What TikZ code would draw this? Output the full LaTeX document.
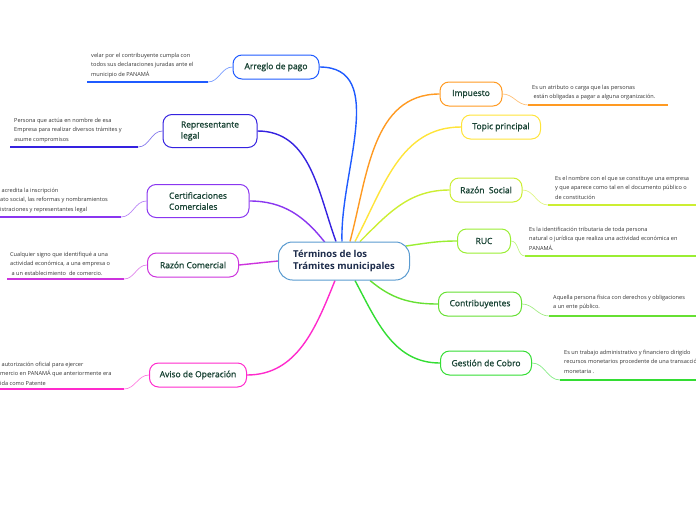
\documentclass[tikz,border=0pt]{standalone}
\usepackage{fontspec}
\setmainfont{Open Sans}
\newfontfamily\labelfont[FakeBold=1.2]{Open Sans}
\usetikzlibrary{positioning,calc,backgrounds}

\definecolor{centerblue}{HTML}{5A9BD0}
\definecolor{navy}{HTML}{1C2B4A}
\definecolor{labelgreen}{HTML}{1B4536}
\definecolor{notegray}{HTML}{333333}
\definecolor{cArreglo}{HTML}{1F5BFF}
\definecolor{cRepres}{HTML}{3522E0}
\definecolor{cCertif}{HTML}{8A36F0}
\definecolor{cRazCom}{HTML}{CC33DD}
\definecolor{cAviso}{HTML}{FF2ACC}
\definecolor{cImpuesto}{HTML}{FF9A22}
\definecolor{cTopic}{HTML}{FFE43A}
\definecolor{cRazSoc}{HTML}{CCEE33}
\definecolor{cRuc}{HTML}{9AEE33}
\definecolor{cContrib}{HTML}{66E033}
\definecolor{cGestion}{HTML}{33DD33}

\begin{document}
\begin{tikzpicture}[x=1pt,y=-1pt,
                    center node/.style={draw=centerblue,line width=1pt,fill=white,
                                        rounded corners=14pt,minimum width=131pt,
                                        minimum height=38pt,align=left,text=navy,
                                        font=\fontsize{9.5}{12}\selectfont\bfseries},
                    branch node/.style={draw=#1,line width=1pt,fill=white,
                                        rounded corners=9pt,minimum height=24pt,
                                        align=left,text=labelgreen,inner sep=2pt,
                                        font=\labelfont\fontsize{8.5}{11}\selectfont},
                    note/.style={anchor=north west,inner sep=0pt,align=left,
                                 text=notegray,font=\fontsize{5.6}{9.5}\selectfont},
                    branch/.style={draw=#1,line width=1.4pt},
                    link/.style={draw=#1!60,line width=0.7pt},
                    underline/.style={draw=#1,line width=1.8pt}
                   ]
   \useasboundingbox (0,0) rectangle (696,520);
   \clip (0,0) rectangle (696,520);
   % main topic
   \node[center node] (main) at (344,261) {Términos de los\\Trámites municipales};
   % left side
   \node[branch node=cArreglo,minimum width=86pt] (arreglo) at (276,67) {Arreglo de pago};
   \node[branch node=cRepres,minimum width=94pt,minimum height=33pt] (repres) at (210,131) {Representante\\legal};
   \node[branch node=cCertif,minimum width=102pt,minimum height=33pt] (certif) at (198,201) {Certificaciones\\Comerciales};
   \node[branch node=cRazCom,minimum width=91pt] (razcom) at (193,265) {Razón Comercial};
   \node[branch node=cAviso,minimum width=97pt] (aviso) at (198,375) {Aviso de Operación};
   % right side
   \node[branch node=cImpuesto,minimum width=62pt] (impuesto) at (471,94) {Impuesto};
   \node[branch node=cTopic,minimum width=79pt] (topic) at (501,127) {Topic principal};
   \node[branch node=cRazSoc,minimum width=72pt] (razsoc) at (486,190) {Razón\ \ Social};
   \node[branch node=cRuc,minimum width=53pt] (ruc) at (484,241) {RUC};
   \node[branch node=cContrib,minimum width=83pt] (contrib) at (480,304) {Contribuyentes};
   \node[branch node=cGestion,minimum width=91pt] (gestion) at (486,363) {Gestión de Cobro};

   % notes
   \node[note] (arreglo-note) at (91,53) {velar por el contribuyente cumpla con\\todos sus declaraciones juradas ante el\\municipio de PANAMÁ};
   \node[note] (repres-note) at (14,118) {Persona que actúa en nombre de esa\\Empresa para realizar diversos trámites y\\asume compromisos};
   \node[note] (certif-note) at (0,188) {\ acredita la inscripción\\ato social, las reformas y nombramientos\\istraciones y representantes legal};
   \node[note] (razcom-note) at (10,252) {Cualquier signo que identifiqué a una\\actividad económica, a una empresa o\\\ a un establecimiento\ \ de comercio.};
   \node[note] (aviso-note) at (0,362) {\ autorización oficial para ejercer\\mercio en PANAMÁ que anteriormente era\\ida como Patente};
   \node[note] (impuesto-note) at (532,85) {Es un atributo o carga que las personas\\\ están obligadas a pagar a alguna organización.};
   \node[note] (razsoc-note) at (555,176) {Es el nombre con el que se constituye una empresa\\y que aparece como tal en el documento público o\\de constitución};
   \node[note] (ruc-note) at (529,227) {Es la identificación tributaria de toda persona\\natural o jurídica que realiza una actividad económica en\\PANAMÁ.};
   \node[note] (contrib-note) at (553,295) {Aquella persona física con derechos y obligaciones\\a un ente público.};
   \node[note] (gestion-note) at (564,350) {Es un trabajo administrativo y financiero dirigido\\recursos monetarios procedente de una transacción\\monetaria .};

   % underline ends
   \coordinate (arreglo-a) at (208,82);   \coordinate (arreglo-b) at (87,82);
   \coordinate (repres-a) at (138,147);   \coordinate (repres-b) at (10,147);
   \coordinate (certif-a) at (121,217);   \coordinate (certif-b) at (0,217);
   \coordinate (razcom-a) at (124,279);   \coordinate (razcom-b) at (7,279);
   \coordinate (aviso-a) at (124,389);    \coordinate (aviso-b) at (0,389);
   \coordinate (impuesto-a) at (528,105); \coordinate (impuesto-b) at (668,105);
   \coordinate (razsoc-a) at (548,205);   \coordinate (razsoc-b) at (696,205);
   \coordinate (ruc-a) at (525,256);      \coordinate (ruc-b) at (696,256);
   \coordinate (contrib-a) at (549,316);  \coordinate (contrib-b) at (696,316);
   \coordinate (gestion-a) at (560,380);  \coordinate (gestion-b) at (696,380);

   \begin{scope}[on background layer]
   % branches from the main topic
   \path[branch=cArreglo] ($(main.north)+(-2,0)$) to[out=92,in=0] (arreglo.east);
   \path[branch=cRepres] ($(main.north)+(-8,0)$) to[out=110,in=0] (repres.east);
   \path[branch=cCertif] ($(main.north)+(-19,1)$) to[out=128,in=0] (certif.east);
   \path[branch=cRazCom] (main.west) -- (razcom.east);
   \path[branch=cAviso] ($(main.south)+(-9,0)$) to[out=-112,in=0] (aviso.east);
   \path[branch=cImpuesto] ($(main.north)+(6,0)$) to[out=75,in=180] (impuesto.west);
   \path[branch=cTopic] ($(main.north)+(11,0)$) to[out=62,in=180] (topic.west);
   \path[branch=cRazSoc] ($(main.north)+(16,0)$) to[out=45,in=180] (razsoc.west);
   \path[branch=cRuc] ($(main.east)+(-4,-15)$) to[out=8,in=180] (ruc.west);
   \path[branch=cContrib] ($(main.south)+(26,0)$) to[out=-40,in=180] (contrib.west);
   \path[branch=cGestion] ($(main.south)+(11,0)$) to[out=-62,in=180] (gestion.west);
   % links to the notes
   \path[link=cArreglo] (arreglo.west) to[out=180,in=0] (arreglo-a);
   \path[link=cRepres] (repres.west) to[out=180,in=0] (repres-a);
   \path[link=cCertif] (certif.west) to[out=180,in=0] (certif-a);
   \path[link=cRazCom] (razcom.west) to[out=180,in=0] (razcom-a);
   \path[link=cAviso] (aviso.west) to[out=180,in=0] (aviso-a);
   \path[link=cImpuesto] (impuesto.east) to[out=0,in=180] (impuesto-a);
   \path[link=cRazSoc] (razsoc.east) to[out=0,in=180] (razsoc-a);
   \path[link=cRuc] (ruc.east) to[out=0,in=180] (ruc-a);
   \path[link=cContrib] (contrib.east) to[out=0,in=180] (contrib-a);
   \path[link=cGestion] (gestion.east) to[out=0,in=180] (gestion-a);
   \end{scope}
   % underlines
   \path[underline=cArreglo] (arreglo-a) -- (arreglo-b);
   \path[underline=cRepres] (repres-a) -- (repres-b);
   \path[underline=cCertif] (certif-a) -- (certif-b);
   \path[underline=cRazCom] (razcom-a) -- (razcom-b);
   \path[underline=cAviso] (aviso-a) -- (aviso-b);
   \path[underline=cImpuesto] (impuesto-a) -- (impuesto-b);
   \path[underline=cRazSoc] (razsoc-a) -- (razsoc-b);
   \path[underline=cRuc] (ruc-a) -- (ruc-b);
   \path[underline=cContrib] (contrib-a) -- (contrib-b);
   \path[underline=cGestion] (gestion-a) -- (gestion-b);
\end{tikzpicture}
\end{document}
